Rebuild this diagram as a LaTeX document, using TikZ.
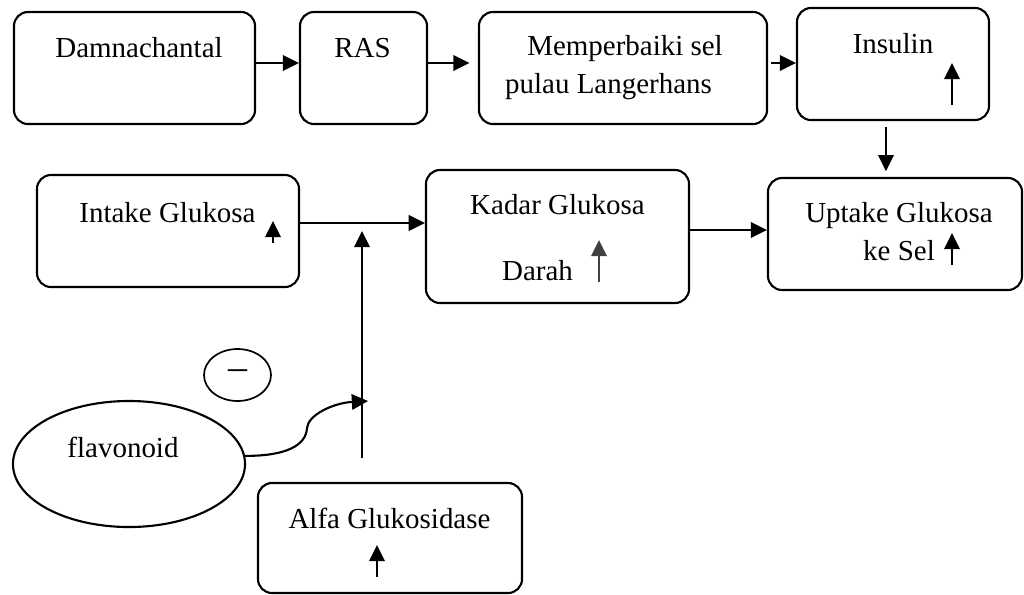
\documentclass[tikz,border=0pt]{standalone}
\usepackage{fontspec}
\setmainfont{Liberation Serif}
\usetikzlibrary{arrows.meta,shapes.geometric}

\begin{document}
\begin{tikzpicture}[x=0.025cm, y=-0.025cm, line width=1.5pt,
  font=\fontsize{20.6}{24}\selectfont,
  box/.style={draw, rounded corners=10pt, inner sep=0pt},
  oval/.style={draw, ellipse, inner sep=0pt},
  txt/.style={anchor=base, inner sep=0pt},
  arr/.style={-{Triangle[length=11.5pt,width=11pt]}}]
  \useasboundingbox (0,0) rectangle (1024,594);
  \node[box, minimum width=6.025cm, minimum height=2.8cm] (dam) at (134.5,68) {};
  \node[box, minimum width=3.175cm, minimum height=2.8cm] (ras) at (363.5,68) {};
  \node[box, minimum width=7.2cm, minimum height=2.8cm] (mem) at (623,68) {};
  \node[box, minimum width=4.8cm, minimum height=2.8cm] (ins) at (893,64) {};
  \node[box, minimum width=6.55cm, minimum height=2.8cm] (int) at (168,231) {};
  \node[box, minimum width=6.575cm, minimum height=3.325cm] (kad) at (557.5,236.5) {};
  \node[box, minimum width=6.35cm, minimum height=2.8cm] (upt) at (895,234) {};
  \node[box, minimum width=6.6cm, minimum height=2.75cm] (alf) at (390,538) {};
  \node[oval, minimum width=5.8cm, minimum height=3.15cm] (flav) at (129,464) {};
  \node[oval, line width=1.2pt, minimum width=1.675cm, minimum height=1.3cm] (neg) at (237.5,375)
    {\fontsize{27}{27}\selectfont –};
  \node[txt] (damT) at (139,57) {Damnachantal};
  \node[txt] (rasT) at (362.5,57) {RAS};
  \node[txt] (memA) at (625,55) {Memperbaiki sel};
  \node[txt] (memB) at (608.5,93) {pulau Langerhans};
  \node[txt] (insT) at (893,53) {Insulin};
  \node[txt] (intT) at (167.5,222) {Intake Glukosa};
  \node[txt] (kadA) at (557.5,214) {Kadar Glukosa};
  \node[txt] (kadB) at (537.5,280) {Darah};
  \node[txt] (uptA) at (899,222) {Uptake Glukosa};
  \node[txt] (uptB) at (899,260) {ke Sel};
  \node[txt] (alfT) at (389.5,528) {Alfa Glukosidase};
  \node[txt] (flavT) at (123,457) {flavonoid};
  \foreach \x/\a/\b in {952/105/63, 952/265/233, 273/243/221, 377/577/545}
    \draw[arr] (\x,\a) -- (\x,\b);
  \draw[arr, black!75] (599,282) -- (599,240);
  \coordinate (top) at (0,63);
  \coordinate (mid) at (0,230);
  \coordinate (jn) at (362,223);
  \coordinate (jt) at (362,231);
  \coordinate (vb) at (362,458);
  \coordinate (inh) at (368,401);
  \draw[arr] (dam.east |- top) -- (ras.west |- top);
  \draw[arr, shorten >=6pt] (ras.east |- top) -- (mem.west |- top);
  \draw[arr, shorten <=2pt] (mem.east |- top) -- (ins.west |- top);
  \draw[arr, shorten <=4pt, shorten >=4pt] ([xshift=-5pt]ins.south) -- ([xshift=-5pt]ins.south |- upt.north);
  \draw[arr] (int.east |- jn) -- (kad.west |- jn);
  \draw[arr] (kad.east |- mid) -- (upt.west |- mid);
  \draw[arr] (vb) -- (jt);
  \draw[arr] (flav.4) .. controls (285,456) and (306,446) .. (307,428)
    .. controls (308,415) and (333,403) .. (inh);
\end{tikzpicture}
\end{document}
